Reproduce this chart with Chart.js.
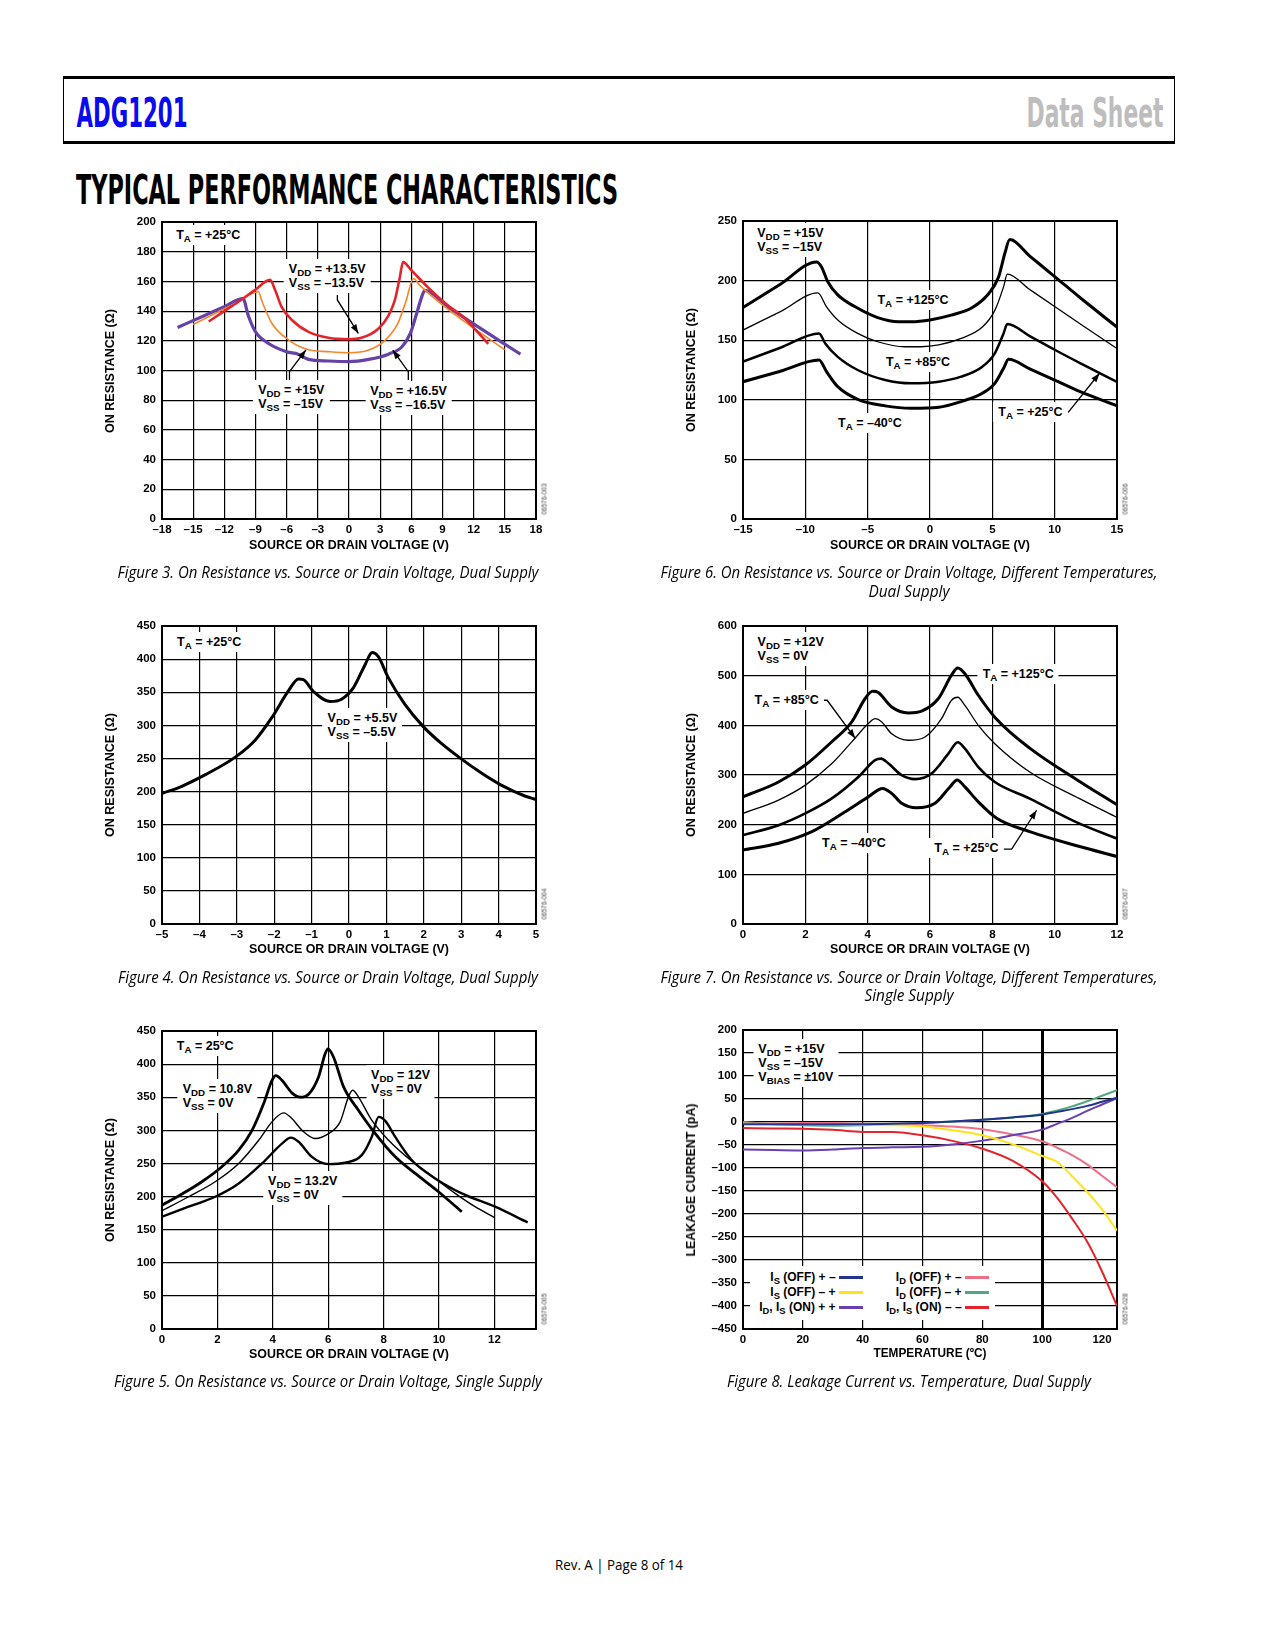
<!DOCTYPE html>
<html>
<head>
<meta charset="utf-8">
<title>ADG1201 Typical Performance Characteristics</title>
<script src="https://cdn.jsdelivr.net/npm/chart.js@4.4.1/dist/chart.umd.min.js"></script>
<style>
  body { margin: 0; background: #fff; }
  #page { position: relative; width: 1275px; height: 1650px; overflow: hidden; background: #fff;
          font-family: "Liberation Sans", Arial, sans-serif; color: #000; }
  .abs { position: absolute; }
  #headbox { position: absolute; left: 63px; top: 76px; width: 1112px; height: 68px; box-sizing: border-box;
             border-top: 3px solid #000; border-bottom: 3px solid #000; border-left: 1.5px solid #000; border-right: 1.5px solid #000; }
  .fit { position: absolute; white-space: nowrap; line-height: normal; }
  .cond { font-weight: bold; font-size: 40px; font-family: "Liberation Sans Narrow", "DejaVu Sans Condensed", "Liberation Sans", sans-serif; }
  .axt { font-weight: bold; font-size: 12.5px; }
  .caption { font-family: "Open Sans", "Noto Sans", sans-serif; font-style: italic; font-size: 15.5px; }
  .foot { font-family: "Open Sans", "Noto Sans", sans-serif; font-size: 14.5px; }
  .code { position: absolute; font-size: 6.5px; color: #444; white-space: nowrap; transform: translate(-50%, -50%) rotate(-90deg); }
  .lbl { position: absolute; background: #fff; font-weight: bold; font-size: 12.5px; line-height: 14px; padding: 3px 5px;
         white-space: nowrap; transform: translate(-50%, -50%); }
  sub { font-size: 0.78em; vertical-align: -0.3em; line-height: 0; }
  .legend { position: absolute; background: #fff; display: grid; grid-template-columns: 86px 28px 98px 28px;
            grid-auto-rows: 15px; padding-top: 4px; box-sizing: border-box; font-weight: bold; font-size: 12px; }
  .legend .t { text-align: right; white-space: nowrap; line-height: 15px; }
  .legend .s { height: 3px; margin: 6px 0 0 3px; width: 24px; }
</style>
</head>
<body>
<div id="page">
  <div id="headbox"></div>
</div>
<script>
// ---------- Figure 3: on resistance vs. VD, dual supply ----------
const fig3Volts135 = [-13.5, -12, -10.5, -9, -7.6, -7.1, -6.5, -5.5, -3.9, -2, 0, 1.2, 2.8, 3.8, 4.4, 4.9, 5.2, 6.0, 7.6, 9.5, 11, 12.5, 13.4];
const fig3Ohms135  = [133, 140, 147, 154.5, 161, 154, 143, 134, 126, 122, 121, 122, 128, 137, 147, 163, 173, 167.5, 156, 144, 136, 125, 118];
const fig3Volts15  = [-15, -13, -11, -8.7, -8.4, -7.4, -5.8, -3.9, -2, 0, 1.9, 3.5, 4.7, 5.5, 6.2, 6.8, 9.2, 12, 15];
const fig3Ohms15   = [131, 138, 145, 153, 147, 131.5, 120.5, 114, 112.7, 112, 113.8, 120.5, 131.7, 147, 162, 157.5, 143, 128.5, 114];
const fig3Volts165 = [-16.5, -14, -12, -10.2, -9.7, -9.0, -7.7, -6.0, -4.9, -3.9, -2, 0, 1.9, 3.8, 5.1, 5.9, 6.5, 7.0, 7.3, 9.5, 12.4, 14.5, 16.5];
const fig3Ohms165  = [129, 136.7, 143, 148.5, 137, 126, 118, 112.6, 111, 107.5, 106.4, 106, 107.5, 111, 116, 125, 138, 149.6, 154, 143, 129.5, 120, 111];

// ---------- Figure 6: on resistance vs. VD, temperatures, dual supply ----------
const fig6Volts125 = [-15, -12, -9.1, -8.7, -8.2, -7.4, -6.0, -4.2, -2.5, -1.5, 0, 1.7, 3.4, 4.7, 5.5, 6.0, 6.4, 8, 10, 12, 15];
const fig6Ohms125  = [177.5, 197, 215.7, 211.5, 199, 188, 178, 169, 165.5, 165.5, 167, 171, 177.5, 189, 203, 222.7, 234.4, 220.6, 203.4, 186, 161];
const fig6Volts85  = [-15, -12, -9.0, -8.3, -7.4, -5.8, -4.2, -2, -0.7, 0.7, 2.5, 4.2, 5.2, 5.9, 6.2, 8, 10, 12, 15];
const fig6Ohms85   = [158.5, 174, 189.7, 178, 167, 155.7, 148.7, 144.5, 144.5, 146, 151.5, 161, 175, 194.7, 205.4, 192.5, 178.2, 164, 143];
const fig6Volts25  = [-15, -12, -8.9, -8.4, -7.4, -5.8, -3.6, -1.5, 0.7, 2.5, 4.2, 5.2, 5.9, 6.2, 8, 10, 12, 15];
const fig6Ohms25   = [132, 143.7, 155.7, 147.3, 136, 125, 116.6, 113.8, 115.2, 119.4, 127.8, 139, 155.7, 163.5, 153.5, 142, 131, 115];
const fig6VoltsM40 = [-15, -12, -8.9, -8.3, -7.4, -5.8, -3.6, -1.5, 0.7, 2.5, 4.2, 5.2, 5.9, 6.3, 8, 10, 12, 15];
const fig6OhmsM40  = [115.2, 124, 133.4, 123.6, 111, 100.4, 94.9, 92.9, 93.7, 98.5, 105.5, 113.8, 126.4, 134, 126, 116.5, 107, 95];

// ---------- Figure 4: on resistance vs. VD, ±5.5 V ----------
const fig4Volts = [-5, -4.47, -3.84, -3.04, -2.51, -2.06, -1.62, -1.35, -1.22, -0.95, -0.51, -0.2, 0.12, 0.43, 0.62, 0.78, 1.05, 1.49, 1.98, 2.47, 3.0, 3.54, 4.07, 4.7, 5];
const fig4Ohms  = [197, 208, 225.5, 252, 277.6, 312, 352, 370, 369, 351, 336, 339.5, 357, 391.6, 410, 404, 372, 332, 298.4, 272.6, 249.3, 228, 209.7, 193.3, 188];

// ---------- Figure 7: on resistance vs. VD, temperatures, single supply ----------
const fig7Volts125 = [0, 1.14, 2, 2.85, 3.49, 3.92, 4.16, 4.34, 4.77, 5.31, 5.73, 6.27, 6.69, 6.89, 7.12, 7.55, 8.1, 9.2, 10.8, 12];
const fig7Ohms125  = [256, 286, 320, 367, 407, 454, 468.5, 466, 437, 425, 428.6, 454, 501, 515.5, 504, 460.6, 415, 354, 287, 240];
const fig7Volts85  = [0, 1.14, 2, 2.85, 3.49, 4.02, 4.24, 4.45, 4.77, 5.31, 5.84, 6.37, 6.69, 6.89, 7.12, 7.55, 8.08, 9.2, 10.8, 12];
const fig7Ohms85   = [222.6, 249.5, 279.6, 323, 366.6, 403.5, 413.5, 406.8, 383, 370, 376.6, 413.5, 450.5, 456.5, 440, 400, 363, 306, 252.5, 214.6];
const fig7Volts25  = [0, 1.14, 2, 2.85, 3.7, 4.24, 4.43, 4.67, 5.09, 5.52, 6.05, 6.59, 6.89, 7.12, 7.55, 8.08, 9.2, 10.8, 12];
const fig7Ohms25   = [179, 199, 222.6, 252.8, 296, 330, 333, 323, 299.6, 291.6, 303, 343, 366, 353, 316, 286, 252.5, 202, 172];
const fig7VoltsM40 = [0, 1.14, 2.21, 3.28, 4.02, 4.48, 4.77, 5.09, 5.57, 6.16, 6.64, 6.87, 7.12, 7.55, 8.14, 9.2, 10.8, 12];
const fig7OhmsM40  = [149, 162.5, 186, 226, 256, 273, 263, 243, 234, 243, 276, 290, 276, 246, 213, 186, 156, 136];

// ---------- Figure 5: on resistance vs. VD, single supply ----------
const fig5Volts108 = [0, 0.72, 1.44, 2.16, 2.77, 3.25, 3.67, 3.97, 4.11, 4.33, 4.69, 4.99, 5.29, 5.65, 5.89, 5.99, 6.19, 6.55, 7.09, 7.7, 8.42, 9.14, 9.98, 10.82];
const fig5Ohms108  = [187, 203.8, 222.4, 245, 270, 300, 340.5, 375.6, 382.7, 375.6, 356.5, 350, 354.5, 380.7, 415.8, 422.9, 410.8, 366, 330.4, 295, 260, 234.9, 207.3, 177];
const fig5Volts12  = [0, 0.96, 1.92, 2.77, 3.49, 3.97, 4.39, 4.69, 5.05, 5.53, 6.01, 6.43, 6.73, 6.88, 7.09, 7.57, 8.18, 8.9, 9.62, 10.58, 11.3, 11.99];
const fig5Ohms12   = [178.6, 199.7, 222.4, 250, 285, 312.8, 326.4, 317.8, 300.3, 287.7, 295, 312.8, 350.5, 360.6, 350.5, 315.3, 285, 257.5, 235, 204.8, 184.7, 168.6];
const fig5Volts132 = [0, 0.96, 1.92, 2.77, 3.61, 4.33, 4.65, 4.93, 5.41, 6.01, 6.61, 7.21, 7.57, 7.82, 8.06, 8.42, 9.02, 9.86, 10.82, 12.02, 13.2];
const fig5Ohms132  = [169.6, 184.7, 199.7, 219.8, 250, 280, 289, 282.7, 260, 249, 251, 262.6, 290, 320.3, 314.3, 290, 254.8, 227.4, 204.8, 184.7, 161];

// ---------- Figure 8: leakage current vs. temperature ----------
const fig8Temps   = [0, 10, 20, 30, 40, 50, 60, 70, 80, 90, 100, 105, 110, 115, 120, 125];
const fig8IsOffPM = [-5, -5, -5, -5, -5, -4, -2, 1, 5, 10, 16, 22, 28, 35, 44, 53];
const fig8IsOffMP = [-4, -5, -5, -5, -6, -7, -10, -18, -29, -48, -74, -87, -118, -152, -190, -236];
const fig8OnPP    = [-60, -61, -62, -60, -56.5, -55, -54, -49, -40.5, -29, -16.6, -4, 9, 24, 38, 52];
const fig8IdOffPM = [-3, -3, -2, -2, -4, -5, -7, -10, -16, -27, -42, -56, -72, -92, -117, -142];
const fig8IdOffMP = [0, -5, -7, -8, -7, -5, -2, 1, 5, 10, 17.4, 25, 34, 45, 57, 69];
const fig8OnMM    = [-13, -14, -14.5, -17, -21.5, -22, -29, -41, -58, -84, -129, -165, -210, -260, -325, -400];
const fig8Names = [
  'I<sub>S</sub> (OFF) + –', 'I<sub>S</sub> (OFF) – +', 'I<sub>D</sub>, I<sub>S</sub> (ON) + +',
  'I<sub>D</sub> (OFF) + –', 'I<sub>D</sub> (OFF) – +', 'I<sub>D</sub>, I<sub>S</sub> (ON) – –'
];
const fig8Colors = ['#22358c', '#ffe31a', '#6a3fb0', '#ec7186', '#4fa97f', '#e2242c'];

const page = document.getElementById('page');
const AXIS_W = 56, PAD_T = 12, PAD_R = 16, AXIS_H = 24;
const TICK_FONT = { family: '"Liberation Sans", Arial, sans-serif', size: 11.5, weight: 'bold' };
const dash = v => String(v).replace('-', '\u2013');

Chart.defaults.font.family = '"Liberation Sans", Arial, sans-serif';
Chart.defaults.color = '#000';

// text squeezed or stretched to the width it has on the page
function placeFit(html, cls, cx, cy, width, rotate) {
  const el = document.createElement('div');
  el.className = 'fit ' + cls;
  el.innerHTML = html;
  page.appendChild(el);
  const w = el.getBoundingClientRect().width;
  el.style.left = cx + 'px';
  el.style.top = cy + 'px';
  el.style.transform = 'translate(-50%, -50%)' + (rotate ? ' rotate(-90deg)' : '') + ' scaleX(' + (width / w) + ')';
  return el;
}

// frame round the plot, plus the little pointer arrows
const framePlugin = {
  id: 'pointers',
  beforeDatasetsDraw(chart) {
    const { ctx, chartArea: a } = chart;
    ctx.save();
    ctx.strokeStyle = '#000';
    ctx.lineWidth = 2;
    ctx.strokeRect(a.left, a.top, a.right - a.left, a.bottom - a.top);
    ctx.restore();
  },
  afterDatasetsDraw(chart, args, opts) {
    const { ctx, scales: { x, y } } = chart;
    (opts.paths || []).forEach(path => {
      const pts = path.map(p => [x.getPixelForValue(p[0]), y.getPixelForValue(p[1])]);
      ctx.save();
      ctx.strokeStyle = '#000';
      ctx.fillStyle = '#000';
      ctx.lineWidth = 1.3;
      ctx.beginPath();
      pts.forEach((p, i) => i ? ctx.lineTo(p[0], p[1]) : ctx.moveTo(p[0], p[1]));
      ctx.stroke();
      const [x1, y1] = pts[pts.length - 2], [x2, y2] = pts[pts.length - 1];
      const ang = Math.atan2(y2 - y1, x2 - x1), L = 9, W = 3.2;
      ctx.beginPath();
      ctx.moveTo(x2, y2);
      ctx.lineTo(x2 - L * Math.cos(ang) + W * Math.sin(ang), y2 - L * Math.sin(ang) - W * Math.cos(ang));
      ctx.lineTo(x2 - L * Math.cos(ang) - W * Math.sin(ang), y2 - L * Math.sin(ang) + W * Math.cos(ang));
      ctx.closePath();
      ctx.fill();
      ctx.restore();
    });
  }
};

function drawPanel(p) {
  const [L, T, R, B] = p.box;
  const wrap = document.createElement('div');
  wrap.className = 'abs';
  wrap.style.left = (L - AXIS_W) + 'px';
  wrap.style.top = (T - PAD_T) + 'px';
  const w = R - L + AXIS_W + PAD_R, h = B - T + PAD_T + AXIS_H;
  const cv = document.createElement('canvas');
  cv.width = w; cv.height = h;
  cv.style.width = w + 'px'; cv.style.height = h + 'px';
  wrap.appendChild(cv);
  page.appendChild(wrap);

  const chart = new Chart(cv, {
    type: 'line',
    data: {
      datasets: p.series.map(s => ({
        label: s.name || '',
        data: s.xs.map((x, i) => ({ x: x, y: s.ys[i] })),
        borderColor: s.color,
        borderWidth: s.width,
        pointRadius: 0,
        fill: false,
        cubicInterpolationMode: 'monotone'
      }))
    },
    options: {
      responsive: false,
      animation: false,
      events: [],
      layout: { autoPadding: false, padding: { left: 0, top: PAD_T, right: PAD_R, bottom: 0 } },
      plugins: { legend: { display: false }, tooltip: { enabled: false }, pointers: { paths: p.arrows || [] } },
      scales: {
        x: {
          type: 'linear', min: p.x[0], max: p.x[1],
          ticks: { stepSize: p.x[2], includeBounds: false, autoSkip: false, maxRotation: 0, padding: 4, color: '#000', font: TICK_FONT, callback: dash },
          grid: { drawTicks: false, color: p.xGridColor || '#000', lineWidth: p.xGridWidth || 1.2 },
          border: { color: '#000', width: 2 },
          afterFit: s => { s.height = AXIS_H; s.paddingLeft = 0; s.paddingRight = 0; }
        },
        y: {
          type: 'linear', min: p.y[0], max: p.y[1],
          ticks: { stepSize: p.y[2], autoSkip: false, padding: 6, color: '#000', font: TICK_FONT, callback: dash },
          grid: { drawTicks: false, color: '#000', lineWidth: 1.2 },
          border: { color: '#000', width: 2 },
          afterFit: s => { s.width = AXIS_W; s.paddingTop = 0; s.paddingBottom = 0; }
        }
      }
    },
    plugins: [framePlugin]
  });

  const sx = chart.scales.x, sy = chart.scales.y;
  (p.notes || []).forEach(n => {
    const d = document.createElement('div');
    d.className = 'lbl';
    d.innerHTML = n.html;
    d.style.left = sx.getPixelForValue(n.x) + 'px';
    d.style.top = sy.getPixelForValue(n.y) + 'px';
    wrap.appendChild(d);
  });

  if (p.legend) {
    const lg = document.createElement('div');
    lg.className = 'legend';
    const x0 = sx.getPixelForValue(p.legend.x0), x1 = sx.getPixelForValue(p.legend.x1);
    const y0 = sy.getPixelForValue(p.legend.y0), y1 = sy.getPixelForValue(p.legend.y1);
    lg.style.left = x0 + 'px'; lg.style.top = y0 + 'px';
    lg.style.width = (x1 - x0) + 'px'; lg.style.height = (y1 - y0) + 'px';
    [0, 3, 1, 4, 2, 5].forEach(i => {
      const s = p.series[i];
      lg.insertAdjacentHTML('beforeend', '<div class="t">' + s.name + '</div><div class="s" style="background:' + s.color + '"></div>');
    });
    wrap.appendChild(lg);
  }

  // axis titles, caption, figure code
  placeFit(p.xTitle, 'axt', (L + R) / 2, p.xTitleY, p.xTitleW, false);
  placeFit(p.yTitle, 'axt', p.yTitleX, (T + B) / 2, p.yTitleW, true);
  p.caption.forEach(c => placeFit(c[0], 'caption', p.capX, c[1], c[2], false));
  const code = document.createElement('div');
  code.className = 'code';
  code.textContent = p.code;
  code.style.left = (R + 8) + 'px';
  code.style.top = (B - 20) + 'px';
  page.appendChild(code);
}

const VD_TITLE = 'SOURCE OR DRAIN VOLTAGE (V)';
const RON_TITLE = 'ON RESISTANCE (\u03A9)';

const panels = [
  {
    box: [162, 222, 536, 519], x: [-18, 18, 3], y: [0, 200, 20],
    series: [
      { xs: fig3Volts135, ys: fig3Ohms135, color: '#e2252b', width: 2.6 },
      { xs: fig3Volts15, ys: fig3Ohms15, color: '#f5862a', width: 1.6 },
      { xs: fig3Volts165, ys: fig3Ohms165, color: '#6542a6', width: 3.2 }
    ],
    notes: [
      { x: -13.55, y: 191, html: 'T<sub>A</sub> = +25°C' },
      { x: -2.1, y: 163.6, html: 'V<sub>DD</sub> = +13.5V<br>V<sub>SS</sub> = –13.5V' },
      { x: -5.55, y: 82, html: 'V<sub>DD</sub> = +15V<br>V<sub>SS</sub> = –15V' },
      { x: 5.73, y: 81.5, html: 'V<sub>DD</sub> = +16.5V<br>V<sub>SS</sub> = –16.5V' }
    ],
    arrows: [
      [[-1.12, 150.8], [-1.12, 147.5], [0.9, 125]],
      [[-5.73, 93.6], [-5.73, 99.2], [-4.15, 113.8]],
      [[5.71, 93.6], [5.71, 99.2], [4.21, 113.8]]
    ],
    xTitle: VD_TITLE, xTitleY: 545, xTitleW: 200, yTitle: RON_TITLE, yTitleX: 110, yTitleW: 124,
    capX: 328, caption: [['Figure 3. On Resistance vs. Source or Drain Voltage, Dual Supply', 572, 421]], code: '06576-003'
  },
  {
    box: [743, 221, 1117, 519], x: [-15, 15, 5], y: [0, 250, 50],
    series: [
      { xs: fig6Volts125, ys: fig6Ohms125, color: '#000', width: 3 },
      { xs: fig6Volts85, ys: fig6Ohms85, color: '#000', width: 1.3 },
      { xs: fig6Volts25, ys: fig6Ohms25, color: '#000', width: 2.5 },
      { xs: fig6VoltsM40, ys: fig6OhmsM40, color: '#000', width: 3 }
    ],
    notes: [
      { x: -11.2, y: 234, html: 'V<sub>DD</sub> = +15V<br>V<sub>SS</sub> = –15V' },
      { x: -1.36, y: 183.4, html: 'T<sub>A</sub> = +125°C' },
      { x: -0.96, y: 131.5, html: 'T<sub>A</sub> = +85°C' },
      { x: -4.82, y: 80.5, html: 'T<sub>A</sub> = –40°C' },
      { x: 8.05, y: 89.7, html: 'T<sub>A</sub> = +25°C' }
    ],
    arrows: [[[10.62, 89.7], [11.1, 89.7], [13.6, 122.3]]],
    xTitle: VD_TITLE, xTitleY: 545, xTitleW: 200, yTitle: RON_TITLE, yTitleX: 691, yTitleW: 124,
    capX: 909, caption: [['Figure 6. On Resistance vs. Source or Drain Voltage, Different Temperatures,', 572, 497], ['Dual Supply', 591, 81]],
    code: '06576-006'
  },
  {
    box: [162, 626, 536, 924], x: [-5, 5, 1], y: [0, 450, 50],
    series: [{ xs: fig4Volts, ys: fig4Ohms, color: '#000', width: 3 }],
    notes: [
      { x: -3.74, y: 425.7, html: 'T<sub>A</sub> = +25°C' },
      { x: 0.36, y: 300, html: 'V<sub>DD</sub> = +5.5V<br>V<sub>SS</sub> = –5.5V' }
    ],
    xTitle: VD_TITLE, xTitleY: 949, xTitleW: 200, yTitle: RON_TITLE, yTitleX: 110, yTitleW: 124,
    capX: 328, caption: [['Figure 4. On Resistance vs. Source or Drain Voltage, Dual Supply', 977, 420]], code: '06576-004'
  },
  {
    box: [743, 626, 1117, 924], x: [0, 12, 2], y: [0, 600, 100],
    series: [
      { xs: fig7Volts125, ys: fig7Ohms125, color: '#000', width: 3 },
      { xs: fig7Volts85, ys: fig7Ohms85, color: '#000', width: 1.3 },
      { xs: fig7Volts25, ys: fig7Ohms25, color: '#000', width: 2.6 },
      { xs: fig7VoltsM40, ys: fig7OhmsM40, color: '#000', width: 3 }
    ],
    notes: [
      { x: 1.53, y: 553, html: 'V<sub>DD</sub> = +12V<br>V<sub>SS</sub> = 0V' },
      { x: 8.83, y: 502.8, html: 'T<sub>A</sub> = +125°C' },
      { x: 1.4, y: 450.5, html: 'T<sub>A</sub> = +85°C' },
      { x: 3.56, y: 163, html: 'T<sub>A</sub> = –40°C' },
      { x: 7.17, y: 152.9, html: 'T<sub>A</sub> = +25°C' }
    ],
    arrows: [
      [[2.48, 450.5], [2.7, 450.5], [3.6, 374]],
      [[8.24, 150.8], [8.62, 150.8], [9.42, 229]]
    ],
    xTitle: VD_TITLE, xTitleY: 949, xTitleW: 200, yTitle: RON_TITLE, yTitleX: 691, yTitleW: 124,
    capX: 909, caption: [['Figure 7. On Resistance vs. Source or Drain Voltage, Different Temperatures,', 977, 497], ['Single Supply', 995, 89]],
    code: '06576-007'
  },
  {
    box: [162, 1031, 536, 1329], x: [0, 13.5, 2], y: [0, 450, 50],
    series: [
      { xs: fig5Volts108, ys: fig5Ohms108, color: '#000', width: 2.8 },
      { xs: fig5Volts12, ys: fig5Ohms12, color: '#000', width: 1.4 },
      { xs: fig5Volts132, ys: fig5Ohms132, color: '#000', width: 2.4 }
    ],
    notes: [
      { x: 1.56, y: 427, html: 'T<sub>A</sub> = 25°C' },
      { x: 2.0, y: 352, html: 'V<sub>DD</sub> = 10.8V<br>V<sub>SS</sub> = 0V' },
      { x: 8.61, y: 373.6, html: 'V<sub>DD</sub> = 12V<br>V<sub>SS</sub> = 0V' },
      { x: 5.08, y: 213, html: 'V<sub>DD</sub> = 13.2V<br>V<sub>SS</sub> = 0V' }
    ],
    xTitle: VD_TITLE, xTitleY: 1354, xTitleW: 200, yTitle: RON_TITLE, yTitleX: 110, yTitleW: 124,
    capX: 328, caption: [['Figure 5. On Resistance vs. Source or Drain Voltage, Single Supply', 1381, 428]], code: '06576-005'
  },
  {
    box: [743, 1030, 1117, 1329], x: [0, 125, 20], y: [-450, 200, 50],
    xGridWidth: c => (c.tick && c.tick.value === 100 ? 3 : 1.2),
    xGridColor: c => (c.tick && c.tick.value === 120 ? 'rgba(0,0,0,0)' : '#000'),
    series: [
      { xs: fig8Temps, ys: fig8IsOffPM, color: fig8Colors[0], width: 2, name: fig8Names[0] },
      { xs: fig8Temps, ys: fig8IsOffMP, color: fig8Colors[1], width: 2, name: fig8Names[1] },
      { xs: fig8Temps, ys: fig8OnPP, color: fig8Colors[2], width: 2, name: fig8Names[2] },
      { xs: fig8Temps, ys: fig8IdOffPM, color: fig8Colors[3], width: 2, name: fig8Names[3] },
      { xs: fig8Temps, ys: fig8IdOffMP, color: fig8Colors[4], width: 2, name: fig8Names[4] },
      { xs: fig8Temps, ys: fig8OnMM, color: fig8Colors[5], width: 2, name: fig8Names[5] }
    ],
    notes: [
      { x: 17.65, y: 128.7, html: 'V<sub>DD</sub> = +15V<br>V<sub>SS</sub> = –15V<br>V<sub>BIAS</sub> = ±10V' }
    ],
    legend: { x0: 2.2, x1: 84.3, y0: -314, y1: -430 },
    xTitle: 'TEMPERATURE (ºC)', xTitleY: 1353, xTitleW: 113, yTitle: 'LEAKAGE CURRENT (pA)', yTitleX: 691, yTitleW: 153,
    capX: 909, caption: [['Figure 8. Leakage Current vs. Temperature, Dual Supply', 1381, 364]], code: '06576-028'
  }
];

// header and page furniture
placeFit('ADG1201', 'cond', 76 + 111 / 2, 113, 111, false).style.color = '#0a0aee';
placeFit('Data Sheet', 'cond', 1163 - 137 / 2, 113, 137, false).style.color = '#bdbdbd';
placeFit('TYPICAL PERFORMANCE CHARACTERISTICS', 'cond', 76 + 542 / 2, 190, 542, false);
placeFit('Rev. A | Page 8 of 14', 'foot', 619, 1564, 128, false);

panels.forEach(drawPanel);
</script>
</body>
</html>
